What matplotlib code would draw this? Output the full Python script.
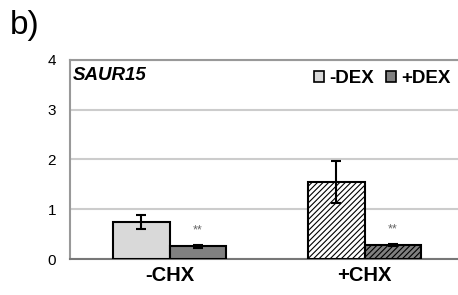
import numpy as np
import matplotlib.pyplot as plt
from matplotlib.patches import Patch

plt.rcParams['font.family'] = ['Liberation Sans', 'DejaVu Sans']
plt.rcParams['hatch.linewidth'] = 0.8

groups = ['-CHX', '+CHX']
series = ['-DEX', '+DEX']
minus_dex = [0.75, 1.55]
minus_dex_err = [0.14, 0.42]
plus_dex = [0.26, 0.28]
plus_dex_err = [0.03, 0.02]
stars = ['**', '**']

fig = plt.figure(figsize=(4.58, 2.95), dpi=100)
ax = fig.add_axes([0.153, 0.122, 0.86, 0.675])

x = np.arange(len(groups))
w = 0.29
hatches = [None, '//////']

for i in range(len(groups)):
    ax.bar(x[i] - w / 2, minus_dex[i], w, color='#d9d9d9' if i == 0 else 'white',
           edgecolor='black', linewidth=1.5, hatch=hatches[i], zorder=3)
    ax.bar(x[i] + w / 2, plus_dex[i], w, color='#808080',
           edgecolor='black', linewidth=1.5, hatch=hatches[i], zorder=3)
    ax.errorbar(x[i] - w / 2, minus_dex[i], yerr=minus_dex_err[i], fmt='none',
                ecolor='black', elinewidth=1.5, capsize=3.5, capthick=1.5, zorder=4)
    ax.errorbar(x[i] + w / 2, plus_dex[i], yerr=plus_dex_err[i], fmt='none',
                ecolor='black', elinewidth=1.5, capsize=3.5, capthick=1.5, zorder=4)
    ax.text(x[i] + w / 2, plus_dex[i] + 0.2, stars[i], ha='center', va='bottom',
            fontsize=9, color='#666666')

ax.set_xlim(-0.51, 1.51)
ax.set_ylim(0, 4)
ax.set_yticks([0, 1, 2, 3, 4])
ax.set_yticklabels(['0', '1', '2', '3', '4'], fontsize=11)
ax.set_xticks(x)
ax.set_xticklabels(groups, fontsize=14.5, fontweight='bold')
ax.tick_params(axis='both', length=0, pad=5)
ax.tick_params(axis='y', pad=10)
ax.yaxis.grid(True, color='#cccccc', linewidth=1.5, zorder=0)
ax.set_axisbelow(True)

for s in ['left', 'top']:
    ax.spines[s].set_color('#999999')
    ax.spines[s].set_linewidth(1.5)
ax.spines['right'].set_visible(False)
ax.spines['bottom'].set_color('#777777')
ax.spines['bottom'].set_linewidth(1.5)

ax.text(0.008, 0.965, 'SAUR15', transform=ax.transAxes, fontsize=13.5,
        fontweight='bold', fontstyle='italic', va='top', ha='left')

handles = [Patch(facecolor='#d9d9d9', edgecolor='black', linewidth=1.2, label=series[0]),
           Patch(facecolor='#808080', edgecolor='black', linewidth=1.2, label=series[1])]
ax.legend(handles=handles, loc='upper right', bbox_to_anchor=(1.01, 1.035), ncol=2,
          frameon=False, prop={'size': 13.5, 'weight': 'bold'},
          handlelength=0.55, handleheight=0.55, handletextpad=0.3, columnspacing=0.6)

fig.text(0.022, 0.965, 'b)', fontsize=24, va='top', ha='left')

fig.savefig('out.png', dpi=100)
